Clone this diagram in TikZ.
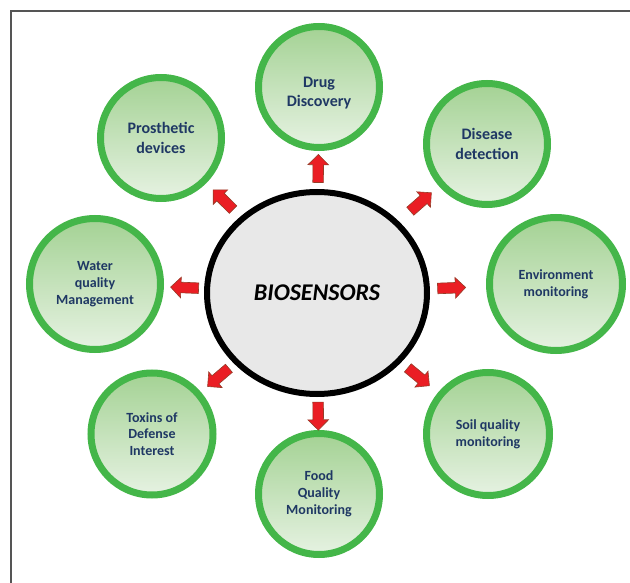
\documentclass[tikz,border=0pt]{standalone}
\usepackage{fontspec}
\setmainfont{Carlito}
\usetikzlibrary{shapes.geometric,shapes.arrows}

\definecolor{ringgreen}{RGB}{68,182,73}
\definecolor{fillgreentop}{RGB}{164,210,148}
\definecolor{fillgreenbot}{RGB}{230,242,226}
\definecolor{labelnavy}{RGB}{31,56,100}
\definecolor{arrowred}{RGB}{234,30,36}
\definecolor{arrowedge}{RGB}{150,60,40}
\definecolor{hubgrey}{RGB}{232,232,232}
\definecolor{framegrey}{RGB}{85,85,85}

\tikzset{
  topic/.style={circle, draw=ringgreen, line width=7pt,
    top color=fillgreentop, bottom color=fillgreenbot,
    text=labelnavy, align=center, inner sep=0pt, minimum size=#1,
    font=\bfseries\fontsize{14}{16.8}\selectfont},
  topic/.default=122pt,
  bigtext/.style={font=\bfseries\fontsize{16}{19.2}\selectfont},
  hub/.style={ellipse, draw=black, line width=6pt, fill=hubgrey,
    minimum width=220pt, minimum height=202pt, inner sep=0pt,
    font=\bfseries\itshape\fontsize{24}{28}\selectfont},
  blockarrow/.style={single arrow, draw=arrowedge, fill=arrowred,
    line width=0.6pt, minimum height=28pt,
    inner xsep=0pt, inner ysep=5pt,
    single arrow head extend=5pt,
    sloped, allow upside down}
}

\begin{document}
\begin{tikzpicture}[x=1pt, y=-1pt]
  \useasboundingbox (0,0) rectangle (630,583);

  % page frame (top and left edges)
  \draw[framegrey, line width=1.2pt] (11,583) -- (11,11) -- (630,11);

  % central hub
  \node[hub] (bio) at (317,293) {BIOSENSORS};

  % application areas
  \node[topic=121pt, bigtext] (drug)   at (319,87)  {\rule{0pt}{22pt}Drug\\Discovery};
  \node[topic=121pt, bigtext] (prosth) at (161,138) {Prosthetic\\devices};
  \node[topic=121pt, bigtext] (disease) at (487,144) {Disease\\detection};
  \node[topic=133pt] (env)    at (556,284) {Environment\\monitoring};
  \node[topic=131pt] (water)  at (95,284)  {Water\\quality\\Management};
  \node[topic=122pt] (toxins) at (152,434) {Toxins of\\Defense\\Interest};
  \node[topic=123pt] (soil)   at (488,434) {Soil quality\\monitoring};
  \node[topic=121pt] (food)   at (319,494) {Food\\Quality\\Monitoring};

  % block arrows from the hub outwards
  \path (bio) -- node[blockarrow, pos=0.47] (a1) {} (drug);
  \path (bio) -- node[blockarrow, pos=0.45] (a2) {} (prosth);
  \path (bio) -- node[blockarrow, pos=0.5]  (a3) {} (disease);
  \path (bio) -- node[blockarrow, pos=0.34] (a4) {} (env);
  \path (bio) -- node[blockarrow, pos=0.42] (a5) {} (water);
  \path (bio) -- node[blockarrow, pos=0.42] (a6) {} (toxins);
  \path (bio) -- node[blockarrow, pos=0.42] (a7) {} (soil);
  \path (bio) -- node[blockarrow, pos=0.5]  (a8) {} (food);
\end{tikzpicture}
\end{document}
